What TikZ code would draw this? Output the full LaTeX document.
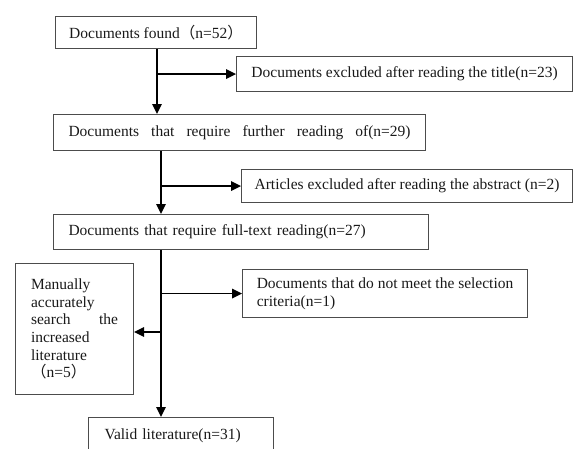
\documentclass[tikz,border=0pt]{standalone}
\usepackage{fontspec}
\setmainfont{Liberation Serif}
\newfontfamily\cjk{Noto Sans CJK SC}
\usepackage{tikz}
\usetikzlibrary{arrows.meta}

\tikzset{
  box/.style={draw=black!70, line width=1.1pt, rectangle, anchor=north west, align=left,
    inner xsep=0pt, text=black!90, font=\fontsize{15.5}{17.7}\selectfont},
  arr/.style={line width=1.6pt, -{Triangle[length=10pt,width=9.5pt]}}
}

\begin{document}
\begin{tikzpicture}[x=1pt,y=-1pt]
\useasboundingbox (0,0) rectangle (574,448);
\node[box, minimum width=201pt, minimum height=32pt] (found) at (55,16) {Documents found{\cjk （}n=52{\cjk ）}};
\node[box, minimum width=336pt, minimum height=35pt] (title) at (236,56) {Documents excluded after reading the title(n=23)};
\node[box, minimum width=372pt, minimum height=36pt] (further) at (53,114) {\makebox[342pt][s]{Documents that require further reading of(n=29)}};
\node[box, minimum width=331pt, minimum height=33pt] (abstract) at (241,169) {Articles excluded after reading the abstract (n=2)};
\node[box, text width=345pt, inner xsep=15pt, minimum height=35pt] (fulltext) at (53,214) {Documents that require full-text reading(n=27)};
\node[box, minimum width=285pt, minimum height=48pt] (criteria) at (242,269) {Documents that do not meet the selection\\criteria(n=1)};
\node[box, minimum width=118pt, minimum height=131pt] (manual) at (15,263) {Manually\\accurately\\\makebox[87pt][s]{search the}\\increased\\literature\\{\cjk （}n=5{\cjk ）}};
\node[box, text width=153pt, inner xsep=16pt, minimum height=36pt] (valid) at (88,417) {Valid literature(n=31)};

\coordinate (trunkA) at (157,0);
\coordinate (trunkB) at (161,0);
\coordinate (back) at (0,332);

\draw[arr] (trunkA |- found.south) -- (trunkA |- further.north);
\draw[arr] (trunkA |- title.west) -- (title.west);
\draw[arr] (trunkB |- further.south) -- (trunkB |- fulltext.north);
\draw[arr] (trunkB |- abstract.west) -- (abstract.west);
\draw[arr] (trunkB |- fulltext.south) -- (trunkB |- valid.north);
\draw[arr] (trunkB |- criteria.west) -- (criteria.west);
\draw[arr] (trunkB |- back) -- (manual.east |- back);
\end{tikzpicture}
\end{document}
